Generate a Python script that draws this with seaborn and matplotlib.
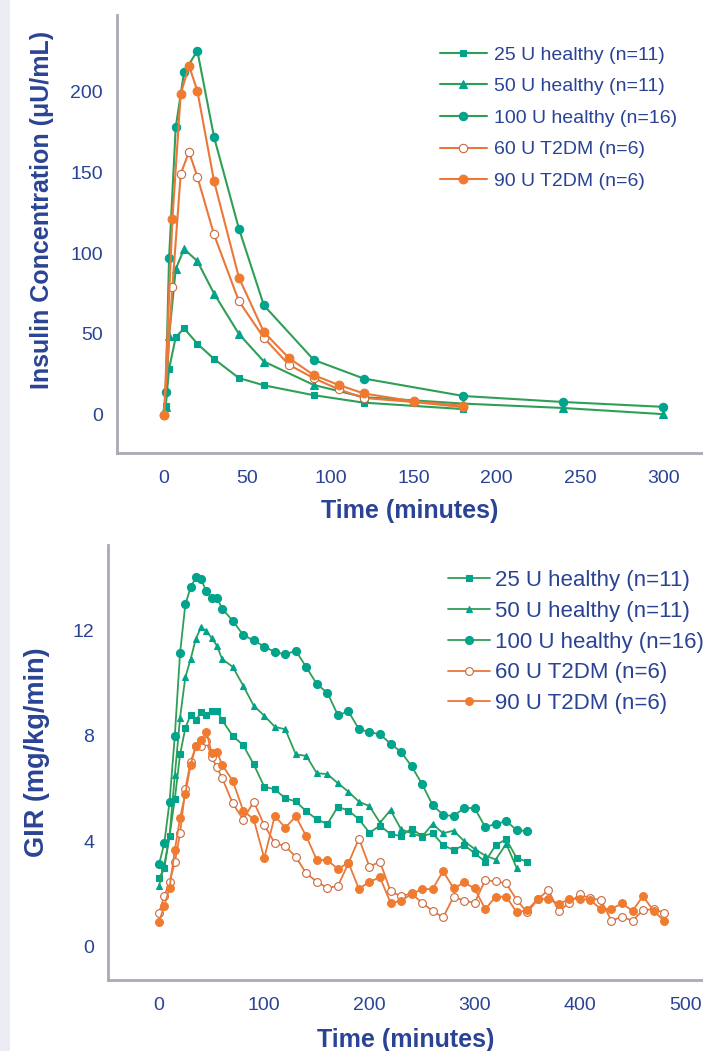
import matplotlib
matplotlib.use("Agg")
import matplotlib.pyplot as plt
import seaborn as sns
from matplotlib.ticker import MultipleLocator, FixedLocator
from matplotlib.patches import Rectangle

# ---------------- data: insulin concentration ----------------
t_healthy = [1, 3, 7, 12, 20, 30, 45, 60, 90, 120, 180, 240, 300]
ins_25 = [5.8, 28.4, 48, 53.5, 44, 34.6, 22.8, 18.3, 12.2, 7.6, 3.6]
ins_50 = [5, 48.5, 90, 102.5, 95, 75, 50, 33, 18.5, 11, 7, 4.3, 0.5]
ins_100 = [14.4, 96.7, 177.6, 211.5, 224.9, 171.8, 115, 67.7, 34, 22.5, 11.7, 8, 5]
t_t2dm = [0, 5, 10, 15, 20, 30, 45, 60, 75, 90, 105, 120, 150, 180]
ins_60 = [0, 79.2, 148.8, 162.5, 147.1, 111.5, 70.2, 47.7, 31, 22.7, 15.8, 10.5, 8, 4.8]
ins_90 = [0, 120.8, 198.3, 215.6, 200.2, 144.6, 84.8, 51.2, 35.2, 24.6, 18.5, 13.3, 8.4, 5.7]

# ---------------- data: glucose infusion rate ----------------
t_early = [0, 5, 10, 15, 20, 25, 30, 35, 40, 45, 50, 55, 60]
t_late_350 = [70, 80, 90, 100, 110, 120, 130, 140, 150, 160, 170, 180, 190, 200,
              210, 220, 230, 240, 250, 260, 270, 280, 290, 300, 310, 320, 330, 340, 350]
t_late_480 = t_late_350 + [360, 370, 380, 390, 400, 410, 420, 430, 440, 450, 460, 470, 480]
t_gir_25 = t_early + t_late_350
t_gir_50 = t_early + t_late_350[:-1]
t_gir_100 = t_early + t_late_350
t_gir_t2dm = t_early + t_late_480

gir_25 = [2.58, 2.97, 4.2, 5.6, 7.3, 8.3, 8.8, 8.6, 8.9, 8.8, 8.95, 8.95, 8.6,
          8.0, 7.65, 6.92, 6.07, 5.97, 5.63, 5.51, 5.13, 4.83, 4.65, 5.31, 5.16, 4.83, 4.32,
          4.59, 4.27, 4.19, 4.48, 4.19, 4.3, 3.85, 3.66, 3.85, 3.54, 3.22, 3.85, 4.07, 3.35, 3.22]
gir_50 = [2.29, 3.1, 4.2, 6.5, 8.7, 10.23, 10.91, 11.7, 12.13, 11.98, 11.73, 11.43, 10.92,
          10.63, 9.91, 9.15, 8.77, 8.35, 8.25, 7.3, 7.24, 6.58, 6.55, 6.2, 5.88, 5.5, 5.33,
          4.7, 5.18, 4.45, 4.3, 4.17, 4.65, 4.3, 4.4, 4.0, 3.7, 3.45, 3.3, 3.9, 2.97]
gir_100 = [3.12, 3.92, 5.5, 8.0, 11.16, 13.0, 13.65, 14.03, 13.95, 13.5, 13.25, 13.25, 12.84,
           12.38, 11.84, 11.63, 11.4, 11.19, 11.1, 11.24, 10.61, 9.97, 9.64, 8.79, 8.93, 8.26, 8.15,
           8.06, 7.71, 7.39, 6.85, 6.17, 5.37, 5.0, 4.95, 5.27, 5.25, 4.54, 4.65, 4.76, 4.42, 4.38]
gir_60 = [1.28, 1.91, 2.46, 3.19, 4.3, 6.0, 7.0, 7.6, 7.6, 7.8, 7.2, 6.8, 6.4,
          5.44, 4.82, 5.5, 4.61, 3.93, 3.81, 3.4, 2.77, 2.46, 2.22, 2.29, 3.16, 4.1, 3.03,
          3.22, 2.1, 1.9, 2.02, 1.65, 1.35, 1.1, 1.89, 1.73, 1.66, 2.52, 2.47, 2.39, 1.76, 1.29,
          1.79, 2.14, 1.33, 1.66, 1.98, 1.82, 1.76, 0.97, 1.13, 0.97, 1.38, 1.41, 1.28]
gir_90 = [0.94, 1.53, 2.23, 3.66, 4.88, 5.8, 6.9, 7.6, 7.84, 8.16, 7.35, 7.4, 6.9,
          6.3, 5.16, 4.83, 3.35, 4.96, 4.51, 4.94, 4.18, 3.28, 3.28, 2.94, 3.18, 2.18, 2.46,
          2.62, 1.66, 1.72, 2.0, 2.17, 2.18, 2.86, 2.2, 2.43, 2.2, 1.41, 1.89, 1.89, 1.29, 1.38,
          1.8, 1.79, 1.61, 1.8, 1.81, 1.76, 1.41, 1.43, 1.63, 1.35, 1.91, 1.35, 0.97]

labels = ["25 U healthy (n=11)", "50 U healthy (n=11)", "100 U healthy (n=16)",
          "60 U T2DM (n=6)", "90 U T2DM (n=6)"]
top_xticks = [0, 50, 100, 150, 200, 250, 300]
top_yticks = [0, 50, 100, 150, 200]
bot_xticks = [0, 100, 200, 300, 400, 500]
bot_yticks = [0, 4, 8, 12]

# ---------------- style ----------------
sns.set_theme(style="white")
plt.rcParams["font.family"] = ["Liberation Sans", "DejaVu Sans"]

TEXT = "#2a4394"
SPINE = "#a9a9b8"
GREEN = "#2f9f57"
TEAL = "#00a48c"
ORANGE = "#e9783a"
ORANGE_M = "#f07b2f"
BROWN = "#c9693e"

fig = plt.figure(figsize=(7.03, 10.51), dpi=100)
W, H = 703, 1051
fig.add_artist(Rectangle((0, 0), 10 / W, 1, transform=fig.transFigure,
                         facecolor="#ececf4", edgecolor="none", zorder=-5))
ax1 = fig.add_axes([117 / W, 1 - 453 / H, (W - 117) / W, (453 - 15) / H])
ax2 = fig.add_axes([108 / W, 1 - 980 / H, (W - 108) / W, (980 - 545) / H])


def draw(ax, x, y, marker, mfc, mec, ms, color, label, lw=1.5):
    sns.lineplot(x=x, y=y, ax=ax, color=color, marker=marker, markersize=ms,
                 markerfacecolor=mfc, markeredgecolor=mec, markeredgewidth=0.8,
                 linewidth=lw, label=label, errorbar=None, sort=False, legend=False)


# top panel
draw(ax1, t_healthy[:len(ins_25)], ins_25, "s", TEAL, TEAL, 5, GREEN, labels[0])
draw(ax1, t_healthy, ins_50, "^", TEAL, TEAL, 5.5, GREEN, labels[1])
draw(ax1, t_healthy, ins_100, "o", TEAL, TEAL, 6, GREEN, labels[2])
draw(ax1, t_t2dm, ins_60, "o", "white", BROWN, 6, ORANGE, labels[3])
draw(ax1, t_t2dm, ins_90, "o", ORANGE_M, ORANGE_M, 6.3, ORANGE, labels[4])

# bottom panel
draw(ax2, t_gir_25, gir_25, "s", TEAL, TEAL, 4.8, GREEN, labels[0], lw=1.3)
draw(ax2, t_gir_50, gir_50, "^", TEAL, TEAL, 4.8, GREEN, labels[1], lw=1.3)
draw(ax2, t_gir_100, gir_100, "o", TEAL, TEAL, 5.8, GREEN, labels[2], lw=1.3)
draw(ax2, t_gir_t2dm, gir_60, "o", "white", BROWN, 5.6, ORANGE, labels[3], lw=1.3)
draw(ax2, t_gir_t2dm, gir_90, "o", ORANGE_M, ORANGE_M, 5.6, ORANGE, labels[4], lw=1.3)

ax1.set_xlim(-28.3, 324)
ax1.set_ylim(-23.5, 247)
ax2.set_xlim(-48.5, 517)
ax2.set_ylim(-1.28, 15.26)

ax1.xaxis.set_major_locator(FixedLocator(top_xticks))
ax1.xaxis.set_minor_locator(MultipleLocator(25))
ax1.yaxis.set_major_locator(FixedLocator(top_yticks))
ax1.yaxis.set_minor_locator(MultipleLocator(25))
ax2.xaxis.set_major_locator(FixedLocator(bot_xticks))
ax2.xaxis.set_minor_locator(MultipleLocator(50))
ax2.yaxis.set_major_locator(FixedLocator(bot_yticks))
ax2.yaxis.set_minor_locator(MultipleLocator(2))

for ax in (ax1, ax2):
    sns.despine(ax=ax)
    for s in ("left", "bottom"):
        ax.spines[s].set_color(SPINE)
        ax.spines[s].set_linewidth(2.0)
    ax.tick_params(axis="both", which="major", direction="out", length=5, width=1.6,
                   color=SPINE, labelcolor=TEXT, labelsize=14)
    ax.tick_params(axis="both", which="minor", direction="out", length=4, width=1.6,
                   color=SPINE)
    ax.tick_params(axis="x", which="major", pad=7)
    ax.tick_params(axis="y", which="major", pad=5)
    ax.set_facecolor("none")

ax1.set_xlabel("Time (minutes)", fontsize=18, fontweight="bold", color=TEXT, labelpad=9)
ax1.set_ylabel("Insulin Concentration (μU/mL)", fontsize=18, fontweight="bold", color=TEXT)
ax1.yaxis.set_label_coords(-0.108, 0.555)
ax2.set_xlabel("Time (minutes)", fontsize=18, fontweight="bold", color=TEXT, labelpad=10)
ax2.set_ylabel("GIR (mg/kg/min)", fontsize=19.5, fontweight="bold", color=TEXT)
ax2.yaxis.set_label_coords(-0.097, 0.524)

leg1 = ax1.legend(loc="upper left", bbox_to_anchor=(440 / W, 1 - 46 / H),
                  bbox_transform=fig.transFigure, frameon=False, fontsize=14,
                  handlelength=2.4, handletextpad=0.4, labelspacing=0.72,
                  borderpad=0, borderaxespad=0, numpoints=1, labelcolor=TEXT)
leg2 = ax2.legend(loc="upper left", bbox_to_anchor=(448 / W, 1 - 570 / H),
                  bbox_transform=fig.transFigure, frameon=False, fontsize=16,
                  handlelength=1.9, handletextpad=0.2, labelspacing=0.44,
                  borderpad=0, borderaxespad=0, numpoints=1, labelcolor=TEXT)

fig.savefig("out.png", dpi=100)
